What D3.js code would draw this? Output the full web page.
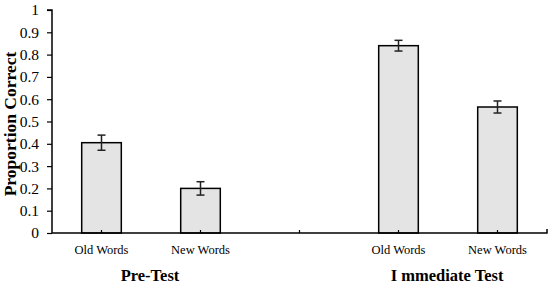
<!DOCTYPE html>
<html>
<head>
<meta charset="utf-8">
<script src="https://cdn.jsdelivr.net/npm/d3@7"></script>
<style>
  body { margin: 0; background: #fff; }
  text { font-family: "Liberation Serif", "Times New Roman", serif; }
</style>
</head>
<body>
<svg id="chart" width="550" height="286"></svg>
<script>
// data
const slots     = ["s0", "s1", "s2", "s3", "s4"];
const slotNames = ["Old Words", "New Words", "", "Old Words", "New Words"];
const barSlots  = ["s0", "s1", "s3", "s4"];
const values    = [0.405, 0.20, 0.84, 0.565];
const errors    = [0.034, 0.03, 0.024, 0.027];
const groups    = ["Pre-Test", "I mmediate Test"];
const groupSlots = [["s0", "s1"], ["s3", "s4"]];
const yTicks    = [0, 0.1, 0.2, 0.3, 0.4, 0.5, 0.6, 0.7, 0.8, 0.9, 1];

const mLeft = 52, mRight = 547, mTop = 10, mBottom = 233;
const svg = d3.select("#chart");

let x = d3.scaleBand().domain(slots).range([mLeft, mRight]).paddingInner(0).paddingOuter(0);
let y = d3.scaleLinear().domain([0, 1]).range([mBottom, mTop]);
const bw = x.bandwidth() * 0.4;

// bars
svg.selectAll(".bar").data(values).enter().append("rect")
  .attr("class", "bar")
  .attr("x", (d, i) => x(barSlots[i]) + x.bandwidth() / 2 - bw / 2)
  .attr("y", d => y(d))
  .attr("width", bw)
  .attr("height", d => y(0) - y(d))
  .attr("fill", "#e4e4e4")
  .attr("stroke", "#000")
  .attr("stroke-width", 1.5);

// error bars
const eb = svg.append("g").attr("stroke", "#222").attr("stroke-width", 1.5);
values.forEach(function(v, i) {
  let cx = x(barSlots[i]) + x.bandwidth() / 2;
  eb.append("line").attr("x1", cx).attr("x2", cx).attr("y1", y(v + errors[i])).attr("y2", y(v - errors[i]));
  eb.append("line").attr("x1", cx - 4).attr("x2", cx + 4).attr("y1", y(v + errors[i])).attr("y2", y(v + errors[i]));
  eb.append("line").attr("x1", cx - 4).attr("x2", cx + 4).attr("y1", y(v - errors[i])).attr("y2", y(v - errors[i]));
});

// y axis
let yAxis = svg.append("g").attr("transform", `translate(${mLeft},0)`)
  .call(d3.axisLeft(y).tickValues(yTicks).tickFormat(d => d === 0 || d === 1 ? d : d.toFixed(1)).tickSize(5).tickPadding(8));
yAxis.select(".domain").attr("stroke", "#000").attr("stroke-width", 1.5).attr("d", `M-5,${mTop}H0V${mBottom}`);
yAxis.selectAll(".tick line").attr("stroke", "#000").attr("stroke-width", 1.2);
yAxis.selectAll("text").attr("font-size", 15.5).attr("fill", "#000");

// x axis
let xAxis = svg.append("g").attr("transform", `translate(0,${mBottom})`)
  .call(d3.axisBottom(x).tickFormat((d, i) => slotNames[i]).tickSize(0).tickPadding(12));
xAxis.select(".domain").attr("stroke", "#000").attr("stroke-width", 1.5).attr("d", `M${mLeft},0H${mRight}V-4`);
xAxis.selectAll(".tick").append("line").attr("y1", 0).attr("y2", -3).attr("stroke", "#000").attr("stroke-width", 1.2);
xAxis.selectAll("text").attr("font-size", 12.5).attr("fill", "#000");

// group labels
groups.forEach(function(g, i) {
  let cx = (x(groupSlots[i][0]) + x(groupSlots[i][1]) + x.bandwidth()) / 2;
  svg.append("text").attr("x", cx - 1).attr("y", 281)
    .attr("text-anchor", "middle").attr("font-size", 16.5).attr("font-weight", "bold").text(g);
});

// y title
svg.append("text").attr("transform", "translate(16,124) rotate(-90)")
  .attr("text-anchor", "middle").attr("font-size", 17.5).attr("font-weight", "bold").text("Proportion Correct");
</script>
</body>
</html>
